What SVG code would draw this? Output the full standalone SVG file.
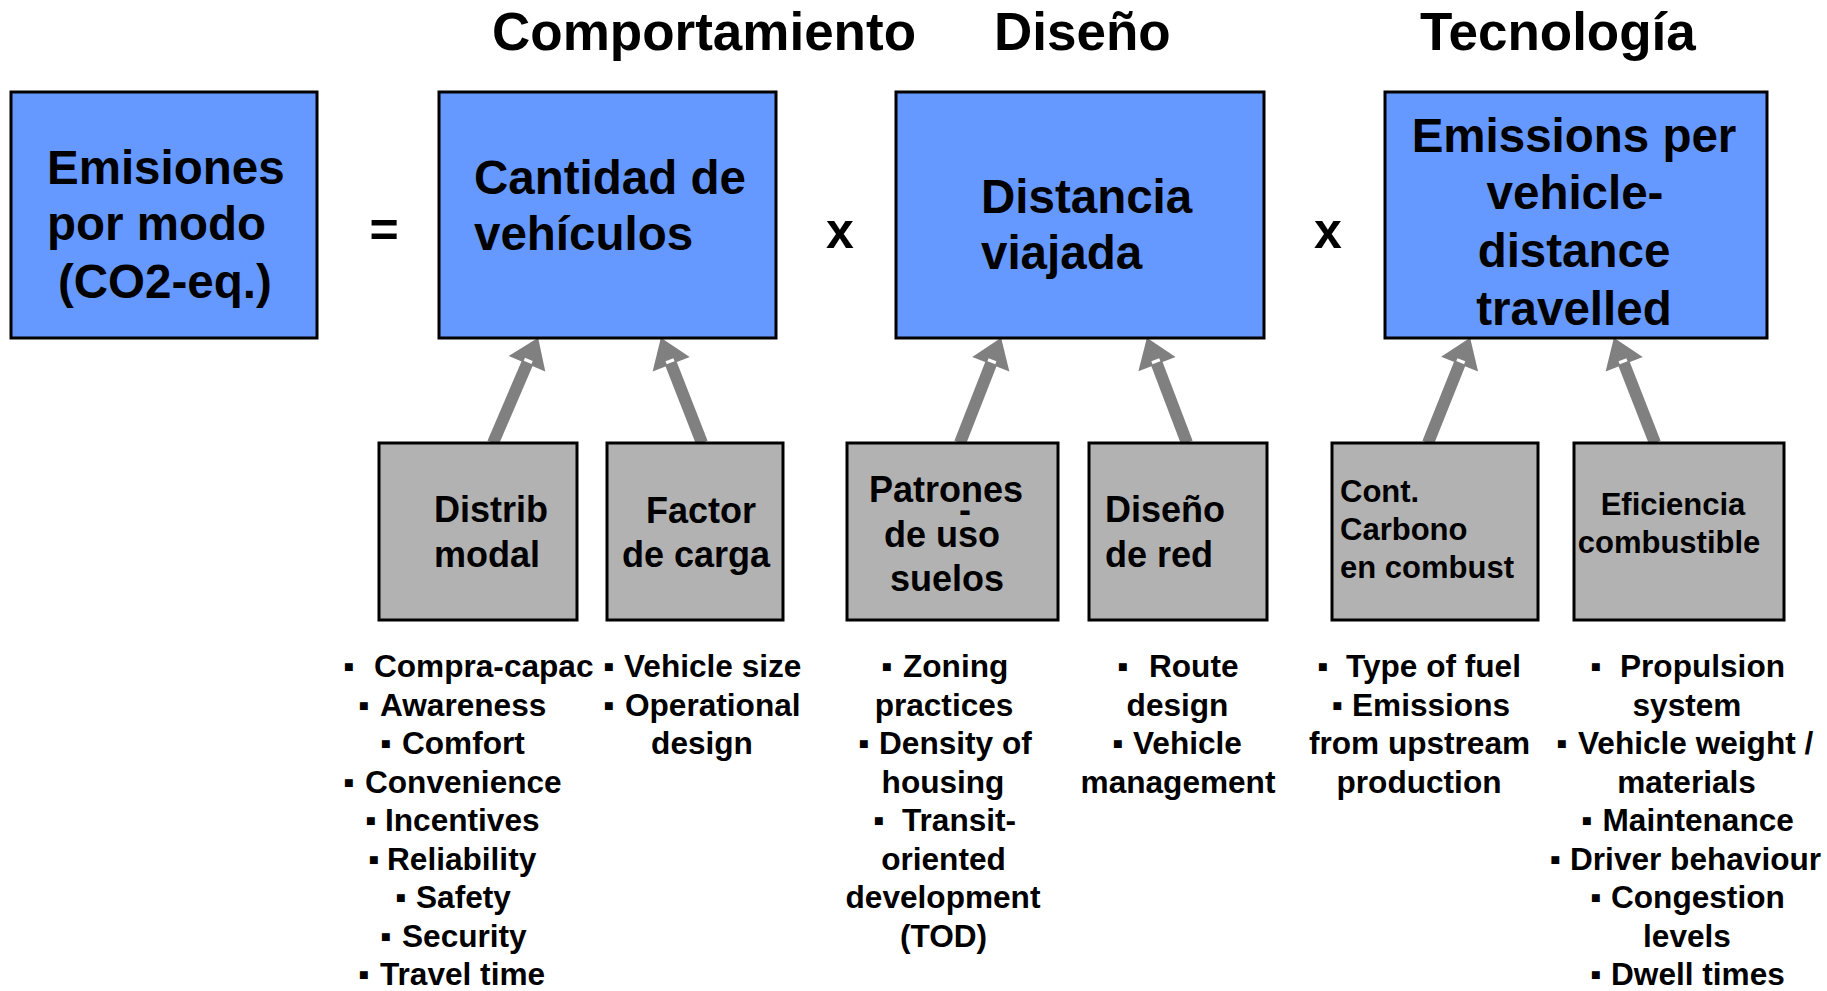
<svg xmlns="http://www.w3.org/2000/svg" width="1827" height="991" viewBox="0 0 1827 991">
<style>
text{font-family:"Liberation Sans",Arial,"DejaVu Sans",sans-serif;font-weight:bold;fill:#000}
.title{font-size:53px}
.big{font-size:47.5px}
.op{font-size:50px}
.mid{font-size:36px}
.sm{font-size:31px}
.li{font-size:31.6px}
.c{text-anchor:middle}
.blue{fill:#6699FF;stroke:#000;stroke-width:3}
.gray{fill:#B2B2B2;stroke:#000;stroke-width:3}
.arr{stroke:#808080;stroke-width:12;fill:none;marker-end:url(#ah)}
</style>
<defs>
<marker id="ah" markerUnits="userSpaceOnUse" markerWidth="40" markerHeight="44" viewBox="-2 -21 32 42" refX="1" refY="0" orient="auto" overflow="visible">
<path d="M0,-19 L27,0 L0,19 Z" fill="#808080"/>
<path d="M3,-4 L3,4" stroke="#fff" stroke-width="3"/>
</marker>
</defs>
<rect width="1827" height="991" fill="#fff"/>

<g id="headers">
<text class="title" x="492" y="50">Comportamiento</text>
<text class="title" x="994" y="50">Diseño</text>
<text class="title" x="1420" y="50">Tecnología</text>
</g>

<g id="connectors">
<line class="arr" x1="493" y1="443" x2="527.4" y2="362.8"/>
<line class="arr" x1="702" y1="443" x2="670.8" y2="363.2"/>
<line class="arr" x1="960" y1="443" x2="991.2" y2="363.2"/>
<line class="arr" x1="1187" y1="443" x2="1156.6" y2="363.2"/>
<line class="arr" x1="1428" y1="443" x2="1460" y2="363.1"/>
<line class="arr" x1="1655" y1="443" x2="1623.8" y2="363.2"/>
</g>

<g id="emisiones">
<rect class="blue" x="11" y="92" width="306" height="246"/>
<text class="big" x="47" y="184">Emisiones</text>
<text class="big" x="47" y="240">por modo</text>
<text class="big" x="58" y="298">(CO2-eq.)</text>
</g>
<g id="op-eq"><text class="op" x="384" y="247" text-anchor="middle">=</text></g>

<g id="cantidad">
<rect class="blue" x="439" y="92" width="337" height="246"/>
<text class="big" x="474" y="194">Cantidad de</text>
<text class="big" x="474" y="250">vehículos</text>
</g>
<g id="op-x1"><text class="op" x="840" y="248" text-anchor="middle">x</text></g>

<g id="distancia">
<rect class="blue" x="896" y="92" width="368" height="246"/>
<text class="big" x="981" y="213">Distancia</text>
<text class="big" x="981" y="269">viajada</text>
</g>
<g id="op-x2"><text class="op" x="1328" y="248" text-anchor="middle">x</text></g>

<g id="emissions-per">
<rect class="blue" x="1385" y="92" width="382" height="246"/>
<text class="big c" x="1574" y="152">Emissions per</text>
<text class="big c" x="1575" y="209">vehicle-</text>
<text class="big c" x="1574" y="267">distance</text>
<text class="big c" x="1574" y="325">travelled</text>
</g>

<g id="distrib">
<rect class="gray" x="379" y="443" width="198" height="177"/>
<text class="mid" x="434" y="522">Distrib</text>
<text class="mid" x="434" y="567">modal</text>
</g>
<g id="factor">
<rect class="gray" x="607" y="443" width="176" height="177"/>
<text class="mid c" x="701" y="523">Factor</text>
<text class="mid c" x="696" y="567">de carga</text>
</g>
<g id="patrones">
<rect class="gray" x="847" y="443" width="211" height="177"/>
<text class="mid c" x="946" y="502">Patrones</text>
<text class="mid c" x="965" y="522">-</text>
<text class="mid c" x="942" y="547">de uso</text>
<text class="mid c" x="947" y="591">suelos</text>
</g>
<g id="disenored">
<rect class="gray" x="1089" y="443" width="178" height="177"/>
<text class="mid" x="1105" y="522">Diseño</text>
<text class="mid" x="1105" y="567">de red</text>
</g>
<g id="contcarbono">
<rect class="gray" x="1332" y="443" width="206" height="177"/>
<text class="sm" x="1340" y="502">Cont.</text>
<text class="sm" x="1340" y="540">Carbono</text>
<text class="sm" x="1340" y="578">en combust</text>
</g>
<g id="eficiencia">
<rect class="gray" x="1574" y="443" width="210" height="177"/>
<text class="sm c" x="1673" y="515">Eficiencia</text>
<text class="sm c" x="1669" y="553">combustible</text>
</g>

<g id="list-distrib">
<text class="li" y="677"><tspan x="343">▪</tspan><tspan x="374">Compra-capac</tspan></text>
<text class="li" y="715.5"><tspan x="358">▪</tspan><tspan x="380">Awareness</tspan></text>
<text class="li" y="754"><tspan x="380">▪</tspan><tspan x="402">Comfort</tspan></text>
<text class="li" y="792.5"><tspan x="343">▪</tspan><tspan x="365">Convenience</tspan></text>
<text class="li" y="831"><tspan x="365">▪</tspan><tspan x="385">Incentives</tspan></text>
<text class="li" y="869.5"><tspan x="368">▪</tspan><tspan x="387">Reliability</tspan></text>
<text class="li" y="908"><tspan x="395">▪</tspan><tspan x="416">Safety</tspan></text>
<text class="li" y="946.5"><tspan x="380">▪</tspan><tspan x="402">Security</tspan></text>
<text class="li" y="985"><tspan x="358">▪</tspan><tspan x="380">Travel time</tspan></text>
</g>
<g id="list-factor">
<text class="li" y="677"><tspan x="603">▪</tspan><tspan x="624">Vehicle size</tspan></text>
<text class="li" y="715.5"><tspan x="603">▪</tspan><tspan x="625">Operational</tspan></text>
<text class="li c" x="702" y="754">design</text>
</g>
<g id="list-patrones">
<text class="li" y="677"><tspan x="881">▪</tspan><tspan x="903">Zoning</tspan></text>
<text class="li c" x="944" y="715.5">practices</text>
<text class="li" y="754"><tspan x="858">▪</tspan><tspan x="879">Density of</tspan></text>
<text class="li c" x="943" y="792.5">housing</text>
<text class="li" y="831"><tspan x="873">▪</tspan><tspan x="902">Transit-</tspan></text>
<text class="li c" x="943.5" y="869.5">oriented</text>
<text class="li c" x="943" y="908">development</text>
<text class="li c" x="943.5" y="946.5">(TOD)</text>
</g>
<g id="list-disenored">
<text class="li" y="677"><tspan x="1117">▪</tspan><tspan x="1149">Route</tspan></text>
<text class="li c" x="1177.5" y="715.5">design</text>
<text class="li" y="754"><tspan x="1112">▪</tspan><tspan x="1133">Vehicle</tspan></text>
<text class="li c" x="1178" y="792.5">management</text>
</g>
<g id="list-contcarbono">
<text class="li" y="677"><tspan x="1317">▪</tspan><tspan x="1346">Type of fuel</tspan></text>
<text class="li" y="715.5"><tspan x="1331.5">▪</tspan><tspan x="1352">Emissions</tspan></text>
<text class="li c" x="1419.5" y="754">from upstream</text>
<text class="li c" x="1419" y="792.5">production</text>
</g>
<g id="list-eficiencia">
<text class="li" y="677"><tspan x="1590">▪</tspan><tspan x="1620">Propulsion</tspan></text>
<text class="li c" x="1687" y="715.5">system</text>
<text class="li" y="754"><tspan x="1556">▪</tspan><tspan x="1578">Vehicle weight /</tspan></text>
<text class="li c" x="1686.5" y="792.5">materials</text>
<text class="li" y="831"><tspan x="1581">▪</tspan><tspan x="1602.5">Maintenance</tspan></text>
<text class="li" y="869.5"><tspan x="1549.5">▪</tspan><tspan x="1570">Driver behaviour</tspan></text>
<text class="li" y="908"><tspan x="1590">▪</tspan><tspan x="1611">Congestion</tspan></text>
<text class="li c" x="1687" y="946.5">levels</text>
<text class="li" y="985"><tspan x="1590">▪</tspan><tspan x="1611">Dwell times</tspan></text>
</g>
</svg>
